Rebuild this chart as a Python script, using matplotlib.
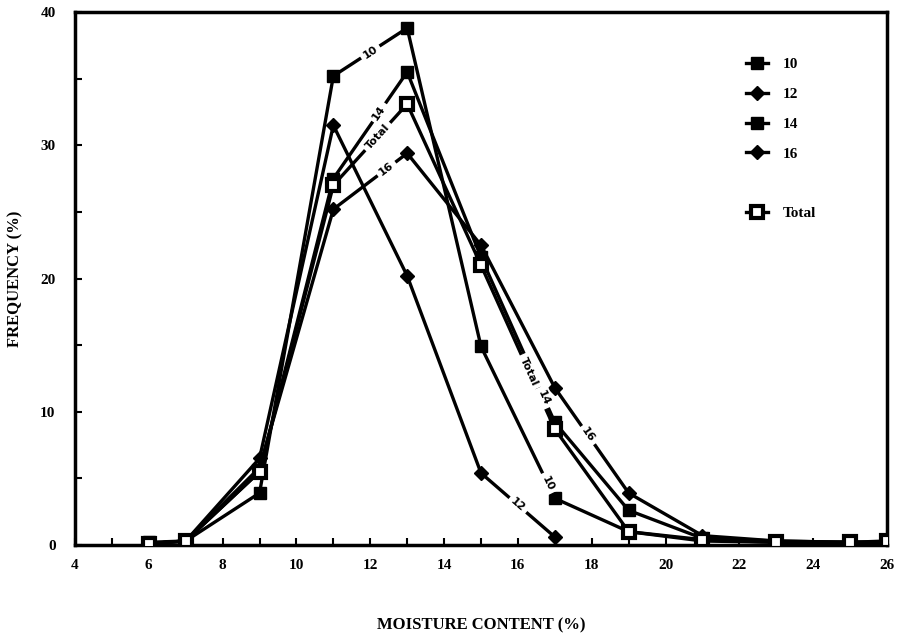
import numpy as np
import matplotlib
matplotlib.use("Agg")
import matplotlib.pyplot as plt
from matplotlib.lines import Line2D

# moisture classes (%) and frequency (%) for each series
mc = [6, 7, 9, 11, 13, 15, 17, 19, 21, 23, 25, 26]
mc12 = [6, 7, 9, 11, 13, 15, 17]
f10 = [0.2, 0.3, 3.9, 35.2, 38.8, 14.9, 3.5, 1.0, 0.3, 0.2, 0.2, 0.2]
f12 = [0.1, 0.3, 6.5, 31.5, 20.2, 5.4, 0.6]
f14 = [0.1, 0.3, 5.5, 27.5, 35.5, 21.6, 9.2, 2.6, 0.5, 0.3, 0.2, 0.2]
f16 = [0.1, 0.3, 5.8, 25.2, 29.4, 22.5, 11.8, 3.9, 0.7, 0.3, 0.2, 0.2]
ftot = [0.1, 0.3, 5.5, 27.0, 33.1, 21.0, 8.7, 1.0, 0.4, 0.2, 0.2, 0.3]

yticks = [0, 10, 20, 30, 40]

serif = "Liberation Serif"

fig = plt.figure(figsize=(9, 6.34), dpi=100)
ax = fig.add_axes([0.0833, 0.1404, 0.9023, 0.8406])

lw = 2.4
ax.plot(mc, f10, color="black", lw=lw, marker="s", ms=9, zorder=3)
ax.plot(mc12, f12, color="black", lw=lw, marker="D", ms=7, zorder=3)
ax.plot(mc, f14, color="black", lw=lw, marker="s", ms=9, zorder=3)
ax.plot(mc, f16, color="black", lw=lw, marker="D", ms=7, zorder=3)
ax.plot(mc, ftot, color="black", lw=lw, marker="s", ms=9, mfc="white",
        mec="black", mew=3, zorder=3)

ax.set_xlim(4, 26)
ax.set_ylim(0, 40)


# labels written into the curves, rotated along the segment
def curve_label(xs, ys, i, frac, text):
    x0, x1 = xs[i], xs[i + 1]
    y0, y1 = ys[i], ys[i + 1]
    x = x0 + frac * (x1 - x0)
    y = y0 + frac * (y1 - y0)
    p0 = ax.transData.transform((x0, y0))
    p1 = ax.transData.transform((x1, y1))
    ang = np.degrees(np.arctan2(p1[1] - p0[1], p1[0] - p0[0]))
    ax.text(x, y, text, rotation=ang, rotation_mode="anchor",
            ha="center", va="center", fontsize=8, fontweight="bold",
            family="DejaVu Sans", zorder=4,
            bbox=dict(boxstyle="square,pad=0.3", fc="white", ec="none"))


curve_label(mc, f10, 3, 0.5, "10")
curve_label(mc, f14, 3, 0.62, "14")
curve_label(mc, ftot, 3, 0.6, "Total")
curve_label(mc, f16, 3, 0.72, "16")
curve_label(mc, ftot, 5, 0.65, "Total")
curve_label(mc, f14, 5, 0.85, "14")
curve_label(mc, f16, 6, 0.45, "16")
curve_label(mc, f10, 5, 0.9, "10")
curve_label(mc12, f12, 5, 0.5, "12")

# axes styling
for s in ax.spines.values():
    s.set_linewidth(2.5)
ax.set_xticks(range(4, 27))
ax.set_xticklabels([str(v) if v % 2 == 0 else "" for v in range(4, 27)])
ax.set_yticks(yticks)
ax.set_yticks(range(0, 41, 5), minor=True)
ax.tick_params(axis="both", which="both", direction="in", width=1.5)
ax.tick_params(axis="x", length=5, pad=10)
ax.tick_params(axis="y", which="both", length=5, pad=14)
for lab in ax.get_xticklabels() + ax.get_yticklabels():
    lab.set_fontfamily(serif)
    lab.set_fontweight("bold")
    lab.set_fontsize(11)

ax.set_xlabel("MOISTURE CONTENT (%)", family=serif, fontweight="bold",
              fontsize=12, labelpad=33)
ax.set_ylabel("FREQUENCY (%)", family=serif, fontweight="bold",
              fontsize=12, labelpad=12)

# legend with a gap before Total
handles = [
    Line2D([], [], color="black", lw=lw, marker="s", ms=9),
    Line2D([], [], color="black", lw=lw, marker="D", ms=7),
    Line2D([], [], color="black", lw=lw, marker="s", ms=9),
    Line2D([], [], color="black", lw=lw, marker="D", ms=7),
    Line2D([], [], color="none"),
    Line2D([], [], color="black", lw=lw, marker="s", ms=9, mfc="white",
           mec="black", mew=3),
]
labels = ["10", "12", "14", "16", "", "Total"]
ax.legend(handles, labels, loc="upper left", bbox_to_anchor=(0.81, 0.94),
          frameon=False, handlelength=1.4, handletextpad=1.0,
          labelspacing=1.05, prop=dict(family=serif, weight="bold", size=11))

fig.savefig("out.png", dpi=100)
